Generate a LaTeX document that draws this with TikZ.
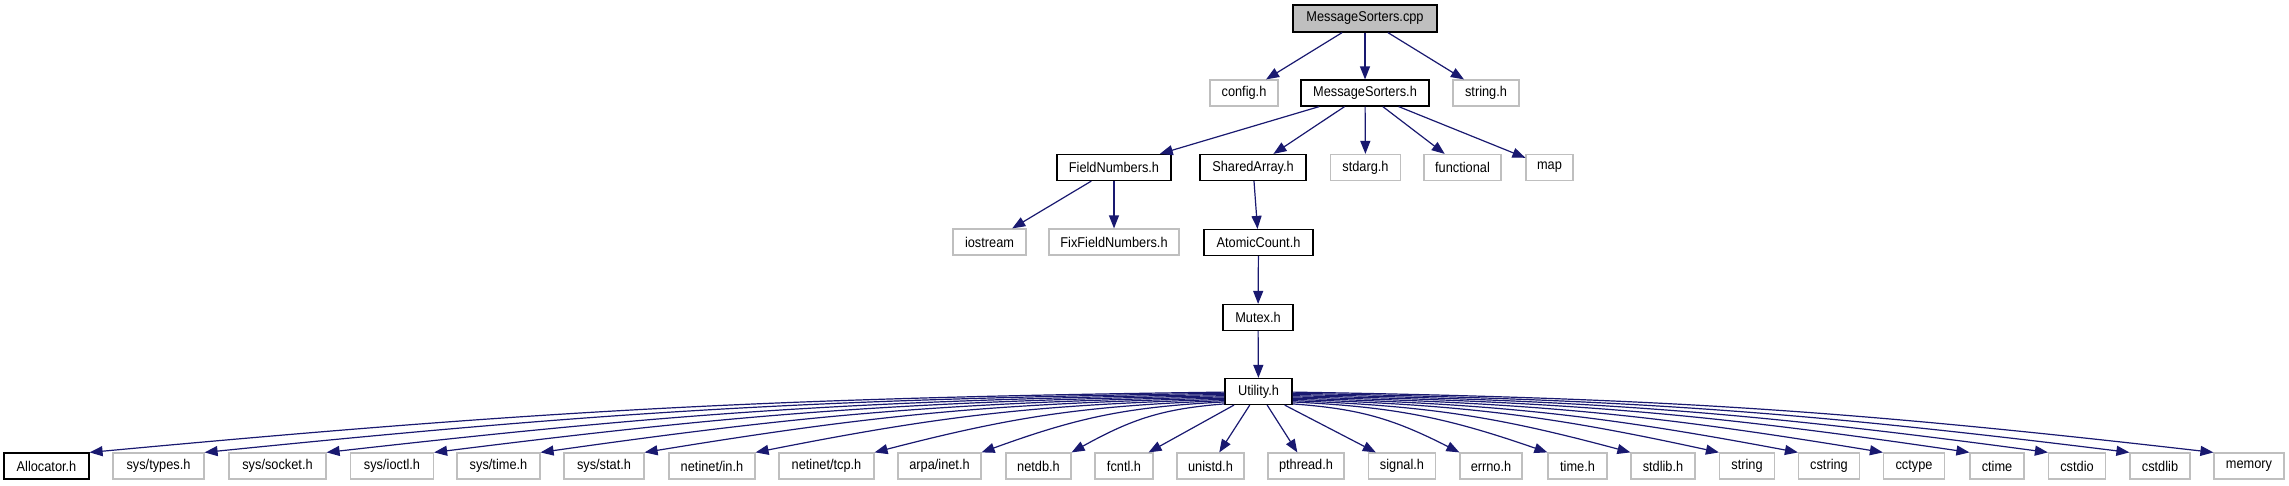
\documentclass[tikz,border=0pt]{standalone}
\usepackage{fontspec}
\setmainfont[FakeStretch=0.9]{Liberation Sans}
\usetikzlibrary{arrows.meta,calc}
\definecolor{edgeblue}{HTML}{191970}
\definecolor{boxgray}{HTML}{BFBFBF}
\begin{document}
\begin{tikzpicture}[x=1pt,y=-1pt,
  box/.style={draw=black, line width=1.2pt, fill=white, inner sep=0pt, minimum height=26pt, font=\fontsize{14.2}{16}\selectfont},
  ext/.style={box, draw=boxgray},
  edge/.style={draw=edgeblue, line width=1.2pt, -{Triangle[length=13pt,width=10pt]}}]
\useasboundingbox (0,0) rectangle (2289,485);
% top levels
\node[box, fill=boxgray, minimum width=144pt, minimum height=27pt] (cpp) at (1365,18.5) {MessageSorters.cpp};
\node[ext, minimum width=68pt] (config) at (1244,93) {config.h};
\node[box, minimum width=128pt] (msh) at (1365,93) {MessageSorters.h};
\node[ext, minimum width=66pt] (stringh) at (1486,93) {string.h};
\node[box, minimum width=114pt] (field) at (1114,167.5) {FieldNumbers.h};
\node[box, minimum width=106pt] (shared) at (1253,167.5) {SharedArray.h};
\node[ext, minimum width=70pt] (stdarg) at (1365.5,167.5) {stdarg.h};
\node[ext, minimum width=77pt] (functional) at (1462.5,167.5) {functional};
\node[ext, minimum width=47pt] (map) at (1549.5,167.5) {map};
\node[ext, minimum width=73pt] (iostream) at (989.5,242) {iostream};
\node[ext, minimum width=130pt] (fixfield) at (1114,242) {FixFieldNumbers.h};
\node[box, minimum width=109pt] (atomic) at (1258.5,242.5) {AtomicCount.h};
\node[box, minimum width=70pt] (mutex) at (1258,317.5) {Mutex.h};
\node[box, minimum width=67pt] (utility) at (1258.5,391.5) {Utility.h};
% bottom row
\node[box, minimum width=85pt] (alloc) at (46.5,466) {Allocator.h};
\node[ext, minimum width=91pt] (systypes) at (158.5,466) {sys/types.h};
\node[ext, minimum width=97pt] (syssocket) at (277.5,466) {sys/socket.h};
\node[ext, minimum width=83pt] (sysioctl) at (392,466) {sys/ioctl.h};
\node[ext, minimum width=83pt] (systime) at (498.5,466) {sys/time.h};
\node[ext, minimum width=80pt] (sysstat) at (604,466) {sys/stat.h};
\node[ext, minimum width=86pt] (netin) at (712,466) {netinet/in.h};
\node[ext, minimum width=95pt] (nettcp) at (826.5,466) {netinet/tcp.h};
\node[ext, minimum width=83pt] (arpa) at (939.5,466) {arpa/inet.h};
\node[ext, minimum width=65pt] (netdb) at (1038.5,466) {netdb.h};
\node[ext, minimum width=58pt] (fcntl) at (1124,466) {fcntl.h};
\node[ext, minimum width=67pt] (unistd) at (1210.5,466) {unistd.h};
\node[ext, minimum width=76pt] (pthread) at (1306,466) {pthread.h};
\node[ext, minimum width=67pt] (signal) at (1402,466) {signal.h};
\node[ext, minimum width=62pt] (errno) at (1491,466) {errno.h};
\node[ext, minimum width=59pt] (timeh) at (1577.5,466) {time.h};
\node[ext, minimum width=64pt] (stdlib) at (1663,466) {stdlib.h};
\node[ext, minimum width=55pt] (stringc) at (1747,466) {string};
\node[ext, minimum width=61pt] (cstring) at (1829,466) {cstring};
\node[ext, minimum width=61pt] (cctype) at (1914,466) {cctype};
\node[ext, minimum width=54pt] (ctime) at (1997,466) {ctime};
\node[ext, minimum width=57pt] (cstdio) at (2077,466) {cstdio};
\node[ext, minimum width=60pt] (cstdlib) at (2160,466) {cstdlib};
\node[ext, minimum width=70pt] (memory) at (2249,466) {memory};
% straight edges
\draw[edge] (cpp) -- (config);
\draw[edge] (cpp) -- (msh);
\draw[edge] (cpp) -- (stringh);
\draw[edge] (msh) -- (field);
\draw[edge] (msh) -- (shared);
\draw[edge] (msh) -- (stdarg);
\draw[edge] (msh) -- (functional);
\draw[edge] (msh) -- (map);
\draw[edge] (field) -- (iostream);
\draw[edge] (field) -- (fixfield);
\draw[edge] (shared) -- (atomic);
\draw[edge] (atomic) -- (mutex);
\draw[edge] (mutex) -- (utility);
\draw[edge] (utility) -- (fcntl);
\draw[edge] (utility) -- (unistd);
\draw[edge] (utility) -- (pthread);
\draw[edge] (utility) -- (signal);
% curved edges to the left
\foreach \nm/\ang in {alloc/181,systypes/183,syssocket/185,sysioctl/187,systime/189,sysstat/191,netin/193,nettcp/195,arpa/197,netdb/200}
  \draw[edge] let \p1=(utility.\ang), \p2=(\nm.north east) in (\p1) .. controls ({\x1+0.4*(\x2-\x1)},{\y1+0.1*(\y2-\y1)}) and ({\x2-0.4*(\x2-\x1)},{\y2-0.7*(\y2-\y1)}) .. (\p2);
% curved edges to the right
\foreach \nm/\ang in {errno/340,timeh/343,stdlib/345,stringc/347,cstring/349,cctype/351,ctime/353,cstdio/355,cstdlib/357,memory/359}
  \draw[edge] let \p1=(utility.\ang), \p2=(\nm.north west) in (\p1) .. controls ({\x1+0.4*(\x2-\x1)},{\y1+0.1*(\y2-\y1)}) and ({\x2-0.4*(\x2-\x1)},{\y2-0.7*(\y2-\y1)}) .. (\p2);
\end{tikzpicture}
\end{document}
